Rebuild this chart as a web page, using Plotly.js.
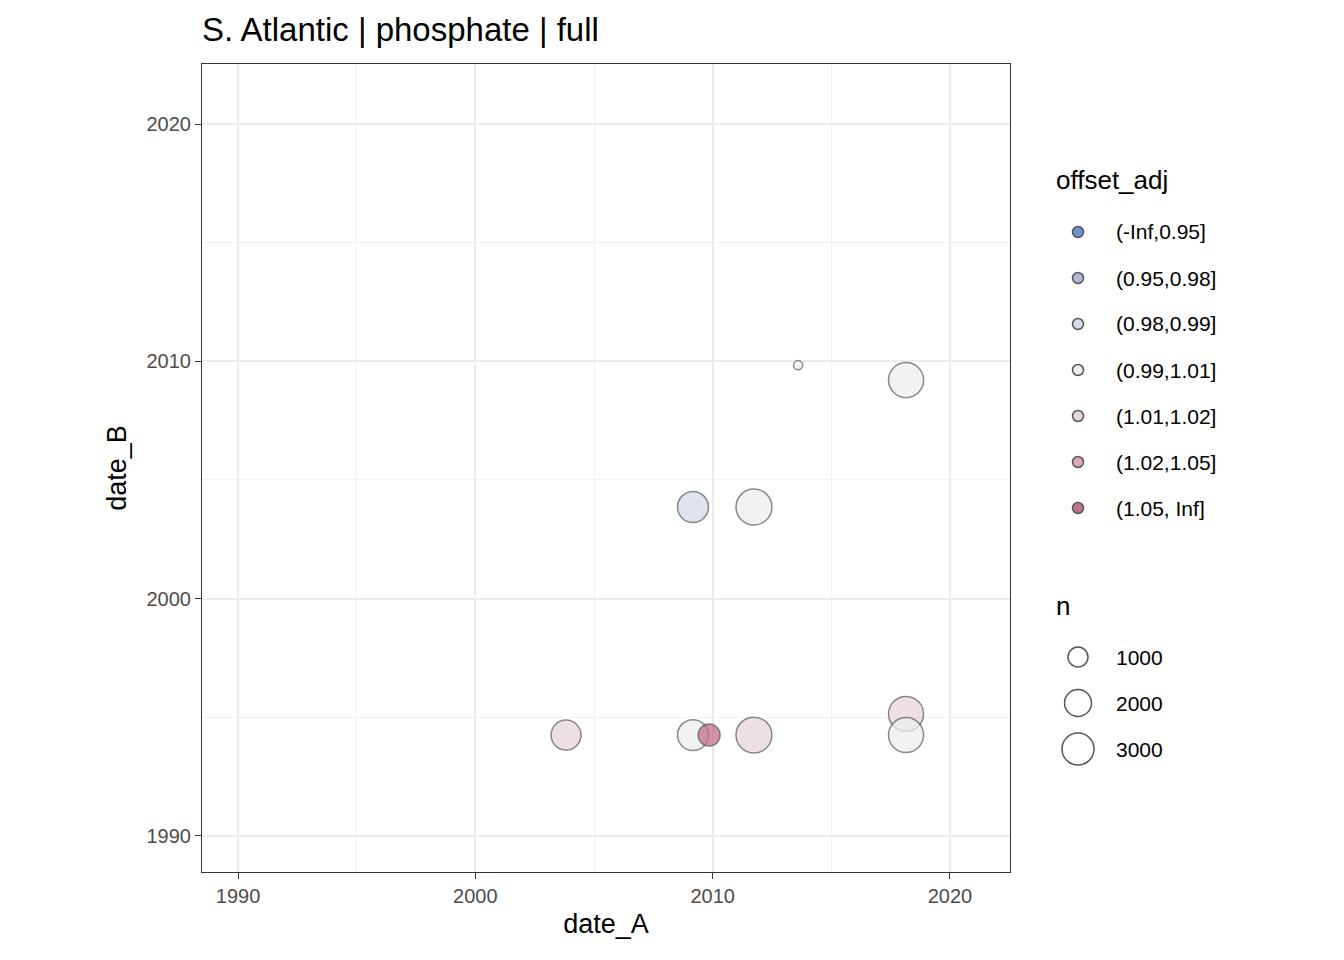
<!DOCTYPE html>
<html><head><meta charset="utf-8">
<script src="https://cdn.plot.ly/plotly-3.0.1.min.js"></script>
<style>body{margin:0}</style></head><body>
<div id="c" style="width:1344px;height:960px"></div>
<script>
const dateA = [2013.6, 2018.15, 2009.17, 2011.74, 2003.82, 2009.17, 2011.74, 2018.15, 2018.15, 2009.85];
const dateB = [2009.84, 2009.21, 2003.86, 2003.86, 1994.25, 1994.25, 1994.25, 1995.14, 1994.25, 1994.25];
const nVals = [160, 3700, 2750, 3900, 2550, 2750, 3900, 3680, 3680, 1250];
const bins  = ["(0.99,1.01]","(0.99,1.01]","(0.98,0.99]","(0.99,1.01]","(1.01,1.02]","(0.99,1.01]","(1.01,1.02]","(1.01,1.02]","(0.99,1.01]","(1.05, Inf]"];
const binLabels = ["(-Inf,0.95]","(0.95,0.98]","(0.98,0.99]","(0.99,1.01]","(1.01,1.02]","(1.02,1.05]","(1.05, Inf]"];
const binColors = ["#6f8fc8","#b0b8d8","#d6dbe8","#eeeeee","#e6d6da","#d9aab6","#c4708e"];
const sizeLabels = [1000, 2000, 3000];

const diam = n => 20*Math.pow(n/1000, 0.43);
const colOf = b => binColors[binLabels.indexOf(b)];

const trace = {
  x: dateA, y: dateB, mode: 'markers', type: 'scatter', hoverinfo: 'x+y',
  marker: {size: nVals.map(diam), color: bins.map(colOf), opacity: 0.75,
           line: {color: 'rgba(60,60,60,0.8)', width: 1.5}},
  showlegend: false
};

const L = 202, R = 1010, T = 64, B = 872, W = R-L, H = B-T;
const px = x => (x-L)/W, py = y => (B-y)/H;
const ann = [], shapes = [];
ann.push({text:'offset_adj', xref:'paper', yref:'paper', x:px(1054), y:py(180), xanchor:'left', yanchor:'middle', showarrow:false, font:{size:26, color:'#000'}});
binLabels.forEach((lab,i)=>{
  const yy = 232 + 46*i;
  ann.push({text:lab, xref:'paper', yref:'paper', x:px(1114), y:py(yy), xanchor:'left', yanchor:'middle', showarrow:false, font:{size:21, color:'#000'}});
  shapes.push({type:'circle', xref:'paper', yref:'paper', xsizemode:'pixel', ysizemode:'pixel', xanchor:px(1078), yanchor:py(yy), x0:-5.5, x1:5.5, y0:-5.5, y1:5.5, fillcolor:binColors[i], line:{color:'#555', width:1.5}});
});
ann.push({text:'n', xref:'paper', yref:'paper', x:px(1054), y:py(606), xanchor:'left', yanchor:'middle', showarrow:false, font:{size:26, color:'#000'}});
sizeLabels.forEach((n,i)=>{
  const yy = 657 + 46*i, r = diam(n)/2;
  ann.push({text:String(n), xref:'paper', yref:'paper', x:px(1114), y:py(yy), xanchor:'left', yanchor:'middle', showarrow:false, font:{size:21, color:'#000'}});
  shapes.push({type:'circle', xref:'paper', yref:'paper', xsizemode:'pixel', ysizemode:'pixel', xanchor:px(1078), yanchor:py(yy), x0:-r, x1:r, y0:-r, y1:r, fillcolor:'rgba(0,0,0,0)', line:{color:'#555', width:1.5}});
});

const ax = (t, s) => ({
  title:{text:t, font:{size:27, color:'#000'}, standoff:s},
  range:[1988.48, 2022.53], tickvals:[1990,2000,2010,2020], ticks:'outside', ticklen:6, tickcolor:'#333',
  tickfont:{size:20, color:'#4d4d4d'}, showgrid:true, gridcolor:'#ebebeb', gridwidth:1.5,
  minor:{tickvals:[1995,2005,2015], showgrid:true, gridcolor:'#f2f2f2', gridwidth:1, ticks:''},
  showline:true, mirror:true, linecolor:'#333', linewidth:1, zeroline:false
});

Plotly.newPlot('c', [trace], {
  width:1344, height:960, margin:{l:L, r:1344-R, t:T, b:960-B},
  paper_bgcolor:'#fff', plot_bgcolor:'#fff',
  font:{family:'Liberation Sans, Arial, sans-serif'},
  title:{text:'S. Atlantic | phosphate | full', xref:'paper', x:0, xanchor:'left', y:0.969, yanchor:'middle', font:{size:33, color:'#000'}},
  xaxis: ax('date_A', 8), yaxis: ax('date_B', 12),
  annotations: ann, shapes: shapes
}, {displayModeBar:false});
</script></body></html>
